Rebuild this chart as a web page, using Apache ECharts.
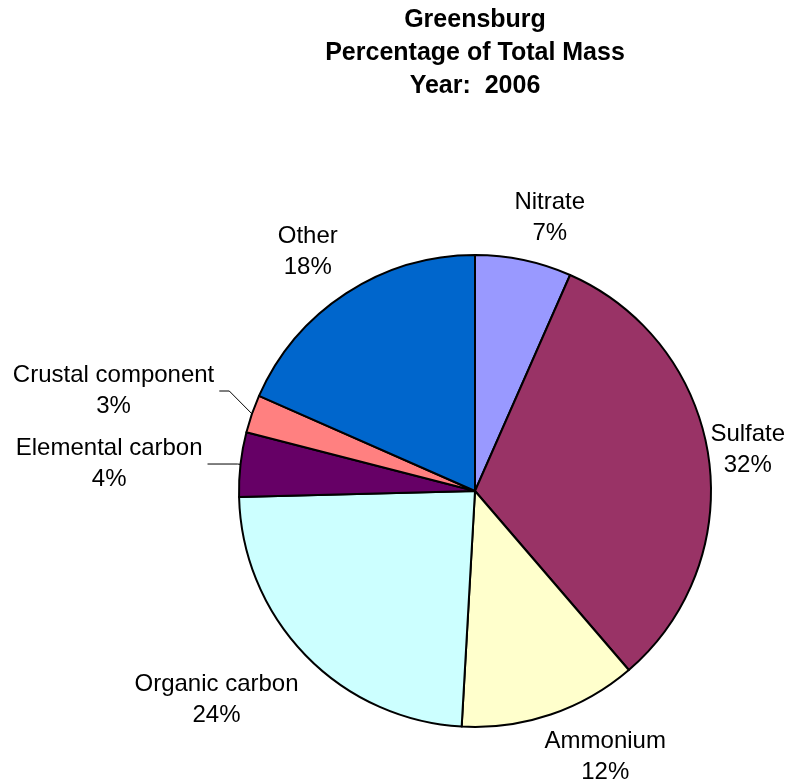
<!DOCTYPE html>
<html><head><meta charset="utf-8">
<script src="https://cdn.jsdelivr.net/npm/echarts@6/dist/echarts.min.js"></script>
<style>html,body{margin:0;padding:0;background:#fff}#c{width:799px;height:784px}</style>
</head><body><div id="c"></div>
<script>
const categories = ['Nitrate', 'Sulfate', 'Ammonium', 'Organic carbon', 'Elemental carbon', 'Crustal component', 'Other'];
const values = [6.6, 32.1, 12.2, 23.7, 4.4, 2.6, 18.4];
const colors = ['#9999FF', '#993366', '#FFFFCC', '#CCFFFF', '#660066', '#FF8080', '#0066CC'];
const titleLines = ['Greensburg', 'Percentage of Total Mass', 'Year:  2006'];

// label placement settings (styles, not data)
const lineShown = [false, false, false, false, true, true, false];
const lineLen = [43, 5, 43, 64, 3, 24, 50];
const lineLen2 = [0, 0, 0, 0, 30, 10, 0];
const labelShift = [[-23, 0], [-8, -6], [-25, 2], [44, 0], [0, 0], [0, -15], [24, 0]];

const chart = echarts.init(document.getElementById('c'), null, {renderer: 'canvas'});
const FONT = '"Liberation Sans", Arial, sans-serif';

chart.setOption({
  animation: false,
  backgroundColor: '#ffffff',
  title: {
    text: titleLines.join('\n'),
    left: 475, top: 4, padding: 0, textAlign: 'center',
    textStyle: {fontFamily: FONT, fontSize: 25, fontWeight: 'bold', color: '#000', lineHeight: 33}
  },
  series: [{
    type: 'pie',
    center: [475, 491],
    radius: 236,
    startAngle: 90,
    clockwise: true,
    avoidLabelOverlap: false,
    emphasis: {disabled: true},
    itemStyle: {borderColor: '#000', borderWidth: 2},
    label: {
      show: true, position: 'outside',
      fontFamily: FONT, fontSize: 24, color: '#000', lineHeight: 31,
      formatter: p => p.name + '\n' + Math.round(p.percent) + '%'
    },
    labelLine: {lineStyle: {color: '#000', width: 1}},
    labelLayout: function (p) {
      const s = labelShift[p.dataIndex];
      const r = p.labelRect;
      const out = {
        x: r.x + r.width / 2 + s[0],
        y: r.y + r.height / 2 + s[1],
        align: 'center', verticalAlign: 'middle'
      };
      if (p.labelLinePoints) {
        out.labelLinePoints = p.labelLinePoints.map((pt, k) => k === 0 ? [pt[0], pt[1]] : [pt[0] + s[0], pt[1] + s[1]]);
      }
      return out;
    },
    data: categories.map((name, i) => ({
      name: name,
      value: values[i],
      itemStyle: {color: colors[i]},
      labelLine: {show: lineShown[i], length: lineLen[i], length2: lineLen2[i]}
    }))
  }]
});
</script>
</body></html>
